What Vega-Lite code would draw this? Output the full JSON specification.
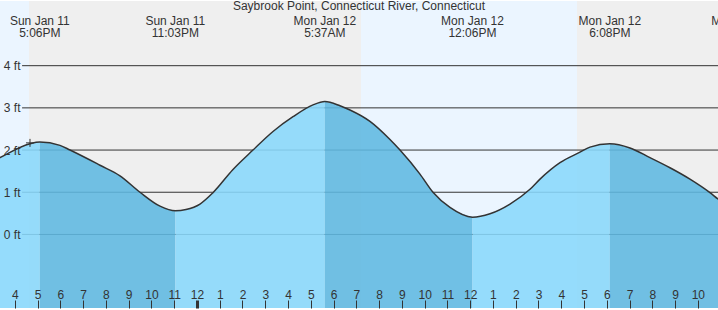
{
  "$schema": "https://vega.github.io/schema/vega-lite/v6.json",
  "width": 718,
  "height": 310,
  "autosize": {"type": "fit", "contains": "padding"},
  "padding": 0,
  "title": {"text": "Saybrook Point, Connecticut River, Connecticut", "anchor": "middle", "frame": "group", "offset": -12, "fontSize": 12, "fontWeight": "normal", "color": "#333333", "font": "Liberation Sans"},
  "config": {"view": {"stroke": null}},
  "resolve": {"scale": {"color": "independent"}},
  "datasets": {
    "bands": [
      {"start": 15.0, "end": 16.624, "kind": "day"},
      {"start": 16.624, "end": 31.204, "kind": "night"},
      {"start": 31.204, "end": 40.69, "kind": "day"},
      {"start": 40.69, "end": 48.0, "kind": "night"}
    ],
    "grid": [{"ft": 0}, {"ft": 1}, {"ft": 2}, {"ft": 3}, {"ft": 4}],
    "tide": [
      {"t": 15.13, "ft": 1.76, "seg": 1, "phase": "rise", "dup": 0},
      {"t": 15.35, "ft": 1.82, "seg": 1, "phase": "rise", "dup": 0},
      {"t": 16.668, "ft": 2.15, "seg": 1, "phase": "rise", "dup": 0},
      {"t": 17.1, "ft": 2.19, "seg": 1, "phase": "rise", "dup": 0},
      {"t": 17.1, "ft": 2.19, "seg": 2, "phase": "fall", "dup": 1},
      {"t": 17.985, "ft": 2.11, "seg": 2, "phase": "fall", "dup": 0},
      {"t": 18.424, "ft": 2.0, "seg": 2, "phase": "fall", "dup": 0},
      {"t": 19.742, "ft": 1.64, "seg": 2, "phase": "fall", "dup": 0},
      {"t": 20.62, "ft": 1.39, "seg": 2, "phase": "fall", "dup": 0},
      {"t": 21.498, "ft": 1.0, "seg": 2, "phase": "fall", "dup": 0},
      {"t": 22.377, "ft": 0.67, "seg": 2, "phase": "fall", "dup": 0},
      {"t": 23.05, "ft": 0.56, "seg": 2, "phase": "fall", "dup": 0},
      {"t": 23.05, "ft": 0.56, "seg": 3, "phase": "rise", "dup": 1},
      {"t": 23.519, "ft": 0.59, "seg": 3, "phase": "rise", "dup": 0},
      {"t": 24.133, "ft": 0.72, "seg": 3, "phase": "rise", "dup": 0},
      {"t": 24.704, "ft": 0.99, "seg": 3, "phase": "rise", "dup": 0},
      {"t": 25.583, "ft": 1.54, "seg": 3, "phase": "rise", "dup": 0},
      {"t": 26.461, "ft": 2.0, "seg": 3, "phase": "rise", "dup": 0},
      {"t": 27.34, "ft": 2.44, "seg": 3, "phase": "rise", "dup": 0},
      {"t": 28.218, "ft": 2.79, "seg": 3, "phase": "rise", "dup": 0},
      {"t": 29.096, "ft": 3.07, "seg": 3, "phase": "rise", "dup": 0},
      {"t": 29.617, "ft": 3.15, "seg": 3, "phase": "rise", "dup": 0},
      {"t": 29.617, "ft": 3.15, "seg": 4, "phase": "fall", "dup": 1},
      {"t": 30.282, "ft": 3.05, "seg": 4, "phase": "fall", "dup": 0},
      {"t": 30.721, "ft": 2.95, "seg": 4, "phase": "fall", "dup": 0},
      {"t": 31.599, "ft": 2.68, "seg": 4, "phase": "fall", "dup": 0},
      {"t": 32.478, "ft": 2.25, "seg": 4, "phase": "fall", "dup": 0},
      {"t": 32.917, "ft": 2.0, "seg": 4, "phase": "fall", "dup": 0},
      {"t": 33.795, "ft": 1.43, "seg": 4, "phase": "fall", "dup": 0},
      {"t": 34.366, "ft": 1.0, "seg": 4, "phase": "fall", "dup": 0},
      {"t": 35.113, "ft": 0.64, "seg": 4, "phase": "fall", "dup": 0},
      {"t": 36.1, "ft": 0.41, "seg": 4, "phase": "fall", "dup": 0},
      {"t": 36.1, "ft": 0.41, "seg": 5, "phase": "rise", "dup": 1},
      {"t": 36.87, "ft": 0.49, "seg": 5, "phase": "rise", "dup": 0},
      {"t": 37.748, "ft": 0.72, "seg": 5, "phase": "rise", "dup": 0},
      {"t": 38.626, "ft": 1.07, "seg": 5, "phase": "rise", "dup": 0},
      {"t": 39.066, "ft": 1.31, "seg": 5, "phase": "rise", "dup": 0},
      {"t": 39.944, "ft": 1.7, "seg": 5, "phase": "rise", "dup": 0},
      {"t": 40.822, "ft": 1.95, "seg": 5, "phase": "rise", "dup": 0},
      {"t": 41.261, "ft": 2.07, "seg": 5, "phase": "rise", "dup": 0},
      {"t": 42.133, "ft": 2.15, "seg": 5, "phase": "rise", "dup": 0},
      {"t": 42.133, "ft": 2.15, "seg": 6, "phase": "fall", "dup": 1},
      {"t": 43.018, "ft": 2.05, "seg": 6, "phase": "fall", "dup": 0},
      {"t": 43.896, "ft": 1.82, "seg": 6, "phase": "fall", "dup": 0},
      {"t": 44.775, "ft": 1.58, "seg": 6, "phase": "fall", "dup": 0},
      {"t": 45.653, "ft": 1.31, "seg": 6, "phase": "fall", "dup": 0},
      {"t": 46.531, "ft": 0.99, "seg": 6, "phase": "fall", "dup": 0},
      {"t": 46.884, "ft": 0.84, "seg": 6, "phase": "fall", "dup": 0},
      {"t": 47.19, "ft": 0.72, "seg": 6, "phase": "fall", "dup": 0}
    ],
    "events": [
      {"t": 17.1, "label": "Sun Jan 11\n5:06PM"},
      {"t": 23.05, "label": "Sun Jan 11\n11:03PM"},
      {"t": 29.617, "label": "Mon Jan 12\n5:37AM"},
      {"t": 36.1, "label": "Mon Jan 12\n12:06PM"},
      {"t": 42.133, "label": "Mon Jan 12\n6:08PM"},
      {"t": 47.97, "label": "Mon Jan 12\n11:58PM"}
    ],
    "marker": [{"t": 16.667, "ft": 2.17}]
  },
  "layer": [
    {
      "data": {"name": "bands"},
      "mark": {"type": "rect", "clip": true},
      "encoding": {
        "x": {"field": "start", "type": "quantitative", "title": null,
          "scale": {"domain": [15.35, 46.884], "nice": false, "zero": false},
          "axis": {"orient": "bottom", "title": null, "domain": false, "grid": false,
            "values": [16,17,18,19,20,21,22,23,24,25,26,27,28,29,30,31,32,33,34,35,36,37,38,39,40,41,42,43,44,45,46],
            "tickCount": 31, "tickMinStep": 1,
            "tickSize": -8, "tickColor": "#333333",
            "tickWidth": {"condition": {"test": "datum.value == 24", "value": 3}, "value": 1},
            "labelPadding": -2, "labelBaseline": "alphabetic",
            "labelExpr": "datum.value % 12 == 0 ? '12' : '' + (datum.value % 12)",
            "labelFontSize": 12, "labelColor": "#333333", "labelFont": "Liberation Sans",
            "labelFlush": false, "labelOverlap": false, "labelSeparation": 0, "zindex": 1}},
        "x2": {"field": "end"},
        "color": {"field": "kind", "type": "nominal", "scale": {"domain": ["day", "night"], "range": ["#EBF5FF", "#EFEFEF"]}, "legend": null}
      }
    },
    {
      "data": {"name": "grid"},
      "mark": {"type": "rule", "color": "#333333", "strokeWidth": 1, "clip": true},
      "encoding": {
        "y": {"field": "ft", "type": "quantitative", "title": null,
          "scale": {"domain": [-1.744, 5.533], "nice": false, "zero": false},
          "axis": {"orient": "left", "offset": -22, "title": null, "domain": false, "ticks": false, "tickSize": 0, "grid": false,
            "values": [0, 1, 2, 3, 4], "labelExpr": "datum.value + ' ft'", "labelPadding": 2,
            "labelFontSize": 12, "labelColor": "#333333", "labelFont": "Liberation Sans", "labelBaseline": "middle", "zindex": 1}},
        "x": {"datum": 16.32, "type": "quantitative"},
        "x2": {"datum": 47.5}
      }
    },
    {
      "data": {"name": "tide"},
      "mark": {"type": "area", "interpolate": "monotone", "opacity": 0.88, "clip": true},
      "encoding": {
        "x": {"field": "t", "type": "quantitative", "title": null},
        "y": {"field": "ft", "type": "quantitative", "title": null},
        "y2": {"datum": -3},
        "color": {"field": "phase", "type": "nominal", "scale": {"domain": ["rise", "fall"], "range": ["#89D8FC", "#5FB8E1"]}, "legend": null},
        "detail": {"field": "seg", "type": "nominal"}
      }
    },
    {
      "data": {"name": "tide"},
      "transform": [{"filter": "datum.dup == 0"}],
      "mark": {"type": "line", "interpolate": "monotone", "color": "#333333", "strokeWidth": 1.5, "clip": true},
      "encoding": {
        "x": {"field": "t", "type": "quantitative", "title": null},
        "y": {"field": "ft", "type": "quantitative", "title": null}
      }
    },
    {
      "data": {"name": "marker"},
      "mark": {"type": "point", "shape": "M-1,0L1,0M0,-1L0,1", "size": 64, "filled": false, "stroke": "#333333", "strokeWidth": 1, "opacity": 1, "clip": true},
      "encoding": {
        "x": {"field": "t", "type": "quantitative", "title": null},
        "y": {"field": "ft", "type": "quantitative", "title": null}
      }
    },
    {
      "data": {"name": "events"},
      "mark": {"type": "text", "align": "center", "baseline": "alphabetic", "lineBreak": "\n", "lineHeight": 12, "fontSize": 12, "font": "Liberation Sans", "color": "#333333", "clip": true},
      "encoding": {
        "x": {"field": "t", "type": "quantitative", "title": null},
        "y": {"datum": 4.97, "type": "quantitative"},
        "text": {"field": "label", "type": "nominal"}
      }
    }
  ]
}
